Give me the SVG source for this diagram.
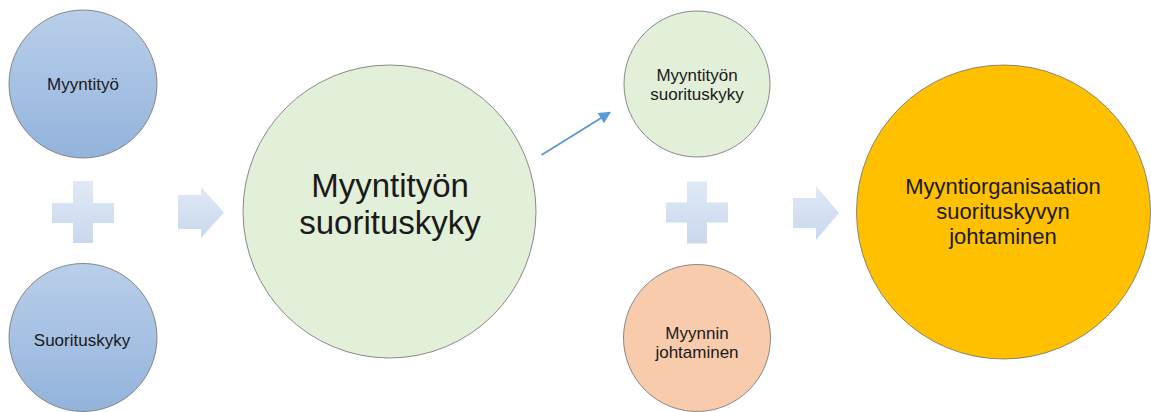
<svg xmlns="http://www.w3.org/2000/svg" width="1151" height="412" viewBox="0 0 1151 412">
  <defs>
    <linearGradient id="blueFill" x1="0" y1="0" x2="0" y2="1">
      <stop offset="0" stop-color="#b9cfea"/>
      <stop offset="1" stop-color="#93b3dc"/>
    </linearGradient>
    <linearGradient id="paleFill" x1="0" y1="0" x2="0" y2="1">
      <stop offset="0" stop-color="#e0e9f5"/>
      <stop offset="1" stop-color="#c9d8ee"/>
    </linearGradient>
    <marker id="arrowHead" viewBox="0 0 10 10" refX="9" refY="5" markerWidth="7" markerHeight="6" orient="auto" markerUnits="strokeWidth">
      <path d="M0,0 L10,5 L0,10 Z" fill="#5b9bd5"/>
    </marker>
  </defs>
  <style>
    .ring { stroke: #6f6f6f; stroke-width: 0.8; }
    .blue { fill: url(#blueFill); }
    .green { fill: #e2efd9; }
    .peach { fill: #f8cbad; }
    .gold { fill: #ffc000; }
    .sign { fill: url(#paleFill); }
    .lbl { font-family: "Liberation Sans", Arial, sans-serif; fill: #1a1a1a; text-anchor: middle; }
    .s { font-size: 17px; }
    .m { font-size: 22px; }
    .l { font-size: 33px; }
    .link { stroke: #5b9bd5; stroke-width: 2; fill: none; }
  </style>

  <rect width="1151" height="412" fill="#ffffff"/>

  <!-- plus and block-arrow symbols -->
  <g id="plus-left">
    <path class="sign" d="M73,181 H93 V203 H114 V223 H93 V243 H73 V223 H52 V203 H73 Z"/>
  </g>
  <g id="arrow-left">
    <path class="sign" d="M178,195 H201 V187 L224,212.5 L201,238 V229 H178 Z"/>
  </g>
  <g id="plus-right">
    <path class="sign" d="M687,181.5 H707 V202.5 H728 V222.5 H707 V243.5 H687 V222.5 H666 V202.5 H687 Z"/>
  </g>
  <g id="arrow-right">
    <path class="sign" d="M793,198 H816 V186 L839,213 L816,240 V228 H793 Z"/>
  </g>

  <!-- connectors -->
  <g id="connectors">
    <line class="link" x1="541.5" y1="155" x2="610" y2="112.5" marker-end="url(#arrowHead)"/>
  </g>

  <!-- nodes -->
  <g id="node-myyntityo">
    <circle class="ring blue" cx="83" cy="84" r="74"/>
    <text class="lbl s" x="83" y="90">Myyntityö</text>
  </g>
  <g id="node-suorituskyky">
    <circle class="ring blue" cx="83" cy="337.5" r="74"/>
    <text class="lbl s" x="82" y="346">Suorituskyky</text>
  </g>
  <g id="node-myyntityon-suorituskyky-main">
    <circle class="ring green" cx="389.5" cy="211.5" r="146.5"/>
    <text class="lbl l" x="390" y="197">Myyntityön</text>
    <text class="lbl l" x="390" y="234">suorituskyky</text>
  </g>
  <g id="node-myyntityon-suorituskyky">
    <circle class="ring green" cx="697" cy="84" r="73"/>
    <text class="lbl s" x="697" y="81">Myyntityön</text>
    <text class="lbl s" x="697" y="100">suorituskyky</text>
  </g>
  <g id="node-myynnin-johtaminen">
    <circle class="ring peach" cx="697" cy="338" r="73.5"/>
    <text class="lbl s" x="697" y="339">Myynnin</text>
    <text class="lbl s" x="697" y="358">johtaminen</text>
  </g>
  <g id="node-myyntiorganisaatio">
    <circle class="ring gold" cx="1003.5" cy="212" r="147"/>
    <text class="lbl m" x="1003" y="193.5">Myyntiorganisaation</text>
    <text class="lbl m" x="1003" y="218.5">suorituskyvyn</text>
    <text class="lbl m" x="1003" y="243.5">johtaminen</text>
  </g>
</svg>
